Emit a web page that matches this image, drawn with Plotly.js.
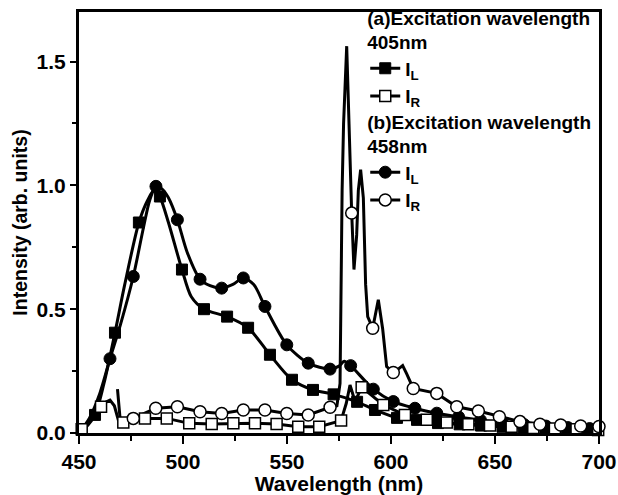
<!DOCTYPE html>
<html>
<head>
<meta charset="utf-8">
<script src="https://cdn.plot.ly/plotly-3.0.1.min.js"></script>
<style>
  html, body { margin: 0; padding: 0; background: #ffffff; }
  #chart { width: 618px; height: 495px; }
</style>
</head>
<body>
<div id="chart"></div>
<script>
// ---------- Data ----------
// (a) 405 nm excitation, I_L (filled squares): curve
var wl_L405 = [450, 453, 457.7, 462, 467.3, 472, 478.8, 483, 486.5, 488.9, 493, 499.5, 504, 510.1, 521.2, 531.3, 541.8, 552.4, 562.5, 572.4, 583.7, 592.3, 602.9, 612.5, 622.6, 633, 643.3, 653.6, 663.9, 674.2, 684.5, 694.8, 700];
var int_L405 = [0.0, 0.02, 0.073, 0.2, 0.405, 0.6, 0.85, 0.94, 0.985, 0.955, 0.85, 0.66, 0.55, 0.50, 0.47, 0.425, 0.316, 0.215, 0.174, 0.156, 0.126, 0.093, 0.061, 0.053, 0.04, 0.035, 0.03, 0.025, 0.02, 0.018, 0.015, 0.012, 0.01];
// markers
var mwl_L405 = [457.7, 467.3, 478.8, 488.9, 499.5, 510.1, 521.2, 531.3, 541.8, 552.4, 562.5, 572.4, 583.7, 592.3, 602.9, 612.5, 622.6, 633, 643.3, 653.6, 663.9, 674.2, 684.5, 694.8];
var mint_L405 = [0.073, 0.405, 0.85, 0.955, 0.66, 0.50, 0.47, 0.425, 0.316, 0.215, 0.174, 0.156, 0.126, 0.093, 0.061, 0.053, 0.04, 0.035, 0.03, 0.025, 0.02, 0.018, 0.015, 0.012];

// (a) 405 nm excitation, I_R (open squares): curve
var wl_R405 = [450, 451.3, 456, 460.6, 463, 464.9, 467, 468.9, 471.3, 476, 481.7, 492.2, 503.0, 513.8, 524.2, 534.6, 545.0, 555.4, 565.5, 576.0, 578.5, 580.3, 582.7, 585.9, 591, 596.3, 606.7, 617.2, 626.8, 637.2, 647.6, 658, 668.4, 678.8, 689.2, 699.6];
var int_R405 = [0.0, 0.015, 0.06, 0.106, 0.125, 0.133, 0.11, 0.053, 0.042, 0.05, 0.059, 0.059, 0.039, 0.036, 0.039, 0.039, 0.036, 0.025, 0.025, 0.05, 0.12, 0.194, 0.127, 0.185, 0.15, 0.113, 0.073, 0.053, 0.042, 0.035, 0.03, 0.025, 0.02, 0.018, 0.015, 0.012];
var mwl_R405 = [451.3, 460.6, 471.3, 481.7, 492.2, 503.0, 513.8, 524.2, 534.6, 545.0, 555.4, 565.5, 576.0, 585.9, 596.3, 606.7, 617.2, 626.8, 637.2, 647.6, 658, 668.4, 678.8, 689.2, 699.6];
var mint_R405 = [0.015, 0.106, 0.042, 0.059, 0.059, 0.039, 0.036, 0.039, 0.039, 0.036, 0.025, 0.025, 0.05, 0.185, 0.113, 0.073, 0.053, 0.042, 0.035, 0.03, 0.025, 0.02, 0.018, 0.015, 0.012];

// (b) 458 nm excitation, I_L (filled circles): curve
var wl_L458 = [450, 455, 460, 464.9, 470, 476.1, 481, 484, 487, 490, 493, 497.3, 502, 508.2, 513, 518.6, 524, 529, 534, 539.4, 549.9, 560.2, 570.7, 575, 577.5, 580.6, 591.5, 601.1, 611.5, 622, 632.5, 643, 653.5, 664, 674.5, 685, 695.5, 700];
var int_L458 = [0.0, 0.06, 0.16, 0.30, 0.44, 0.632, 0.83, 0.94, 0.996, 0.985, 0.95, 0.861, 0.73, 0.621, 0.595, 0.585, 0.60, 0.626, 0.6, 0.511, 0.356, 0.282, 0.258, 0.27, 0.29, 0.272, 0.177, 0.127, 0.10, 0.08, 0.065, 0.052, 0.042, 0.034, 0.028, 0.022, 0.018, 0.016];
var mwl_L458 = [464.9, 476.1, 487, 497.3, 508.2, 518.6, 529, 539.4, 549.9, 560.2, 570.7, 580.6, 591.5, 601.1, 611.5, 622, 632.5, 643, 653.5, 664, 674.5, 685, 695.5];
var mint_L458 = [0.30, 0.632, 0.996, 0.861, 0.621, 0.585, 0.626, 0.511, 0.356, 0.282, 0.258, 0.272, 0.177, 0.127, 0.10, 0.08, 0.065, 0.052, 0.042, 0.034, 0.028, 0.022, 0.018];

// (b) 458 nm excitation, I_R (open circles): curve
var wl_R458 = [468.5, 470, 476.1, 486.9, 497.3, 508.2, 518.6, 529.0, 539.4, 549.9, 560.2, 570.7, 574, 575.5, 576.5, 577.2, 578.7, 580.0, 580.5, 581.1, 582.2, 583.5, 584.3, 585.4, 586.7, 587.8, 588.8, 591.2, 593.9, 596, 597.9, 601.1, 603, 605.6, 607.5, 610.7, 622.0, 631.6, 642.0, 652.1, 662.0, 671.6, 681.6, 691.2, 700];
var int_R458 = [0.177, 0.035, 0.059, 0.10, 0.106, 0.086, 0.079, 0.093, 0.093, 0.079, 0.073, 0.104, 0.11, 0.2, 0.98, 1.25, 1.562, 1.22, 1.0, 0.888, 0.66, 0.8, 0.98, 1.063, 0.95, 0.6, 0.47, 0.423, 0.538, 0.42, 0.268, 0.244, 0.255, 0.272, 0.24, 0.18, 0.16, 0.106, 0.089, 0.066, 0.046, 0.035, 0.032, 0.028, 0.026];
var mwl_R458 = [476.1, 486.9, 497.3, 508.2, 518.6, 529.0, 539.4, 549.9, 560.2, 570.7, 581.1, 591.2, 601.1, 610.7, 622.0, 631.6, 642.0, 652.1, 662.0, 671.6, 681.6, 691.2, 700];
var mint_R458 = [0.059, 0.10, 0.106, 0.086, 0.079, 0.093, 0.093, 0.079, 0.073, 0.104, 0.888, 0.423, 0.244, 0.18, 0.16, 0.106, 0.089, 0.066, 0.046, 0.035, 0.032, 0.028, 0.026];

var xTicks = [450, 500, 550, 600, 650, 700];
var yTicks = [0.0, 0.5, 1.0, 1.5];
var legendTitleA = '<b>(a)Excitation wavelength<br>405nm</b>';
var legendTitleB = '<b>(b)Excitation wavelength<br>458nm</b>';
var nameL = '<b>I<sub>L</sub></b>';
var nameR = '<b>I<sub>R</sub></b>';

// ---------- Styles ----------
var FONT = 'Liberation Sans, Arial, sans-serif';
var LW = 3;
var MS_SQ = 11, MS_CI = 12;
var filledSq = {symbol: 'square', size: MS_SQ, color: '#000', line: {color: '#000', width: 1}};
var openSq = {symbol: 'square', size: MS_SQ, color: '#fff', line: {color: '#000', width: 1.5}};
var filledCi = {symbol: 'circle', size: MS_CI, color: '#000', line: {color: '#000', width: 1}};
var openCi = {symbol: 'circle', size: MS_CI, color: '#fff', line: {color: '#000', width: 1.5}};

function curve(x, y, smooth) {
  return {x: x, y: y, mode: 'lines', showlegend: false, hoverinfo: 'skip',
    line: {color: '#000', width: LW, shape: smooth ? 'spline' : 'linear', smoothing: 0.8}};
}
function marks(x, y, mk) {
  return {x: x, y: y, mode: 'markers', showlegend: false, marker: mk, cliponaxis: false};
}
function legendEntry(name, mk, leg) {
  return {x: [null], y: [null], mode: 'lines+markers', name: name, legend: leg,
    line: {color: '#000', width: LW}, marker: mk};
}

var data = [
  curve(wl_L405, int_L405, true),
  curve(wl_L458, int_L458, true),
  curve(wl_R405, int_R405, false),
  curve(wl_R458, int_R458, false),
  marks(mwl_L405, mint_L405, filledSq),
  marks(mwl_L458, mint_L458, filledCi),
  marks(mwl_R405, mint_R405, openSq),
  marks(mwl_R458, mint_R458, openCi),
  legendEntry(nameL, filledSq, 'legend'),
  legendEntry(nameR, openSq, 'legend'),
  legendEntry(nameL, filledCi, 'legend2'),
  legendEntry(nameR, openCi, 'legend2')
];

var LEGFONT = 19;
var legendCommon = {
  xref: 'container', yref: 'container',
  xanchor: 'left', yanchor: 'top', bgcolor: 'rgba(0,0,0,0)', borderwidth: 0,
  font: {family: FONT, size: LEGFONT, color: '#000'}, tracegroupgap: 0, itemwidth: 30
};

var layout = {
  width: 618, height: 495,
  margin: {l: 79, r: 19, t: 12, b: 62, autoexpand: false},
  paper_bgcolor: '#fff', plot_bgcolor: '#fff',
  font: {family: FONT, color: '#000'},
  showlegend: true,
  xaxis: {
    range: [450, 700], tickmode: 'array', tickvals: xTicks, ticktext: xTicks.map(String),
    ticks: 'outside', ticklen: 8, tickwidth: 2, tickcolor: '#000',
    minor: {dtick: 25, tick0: 450, ticks: 'outside', ticklen: 5, tickwidth: 2, tickcolor: '#000', showgrid: false},
    showline: true, linecolor: '#000', linewidth: 3, mirror: true,
    showgrid: false, zeroline: false, automargin: false,
    tickfont: {family: FONT, size: 21, color: '#000', weight: 'bold'},
    title: {text: '<b>Wavelength (nm)</b>', font: {family: FONT, size: 21, color: '#000'}, standoff: 5}
  },
  yaxis: {
    range: [0, 1.7], tickmode: 'array', tickvals: yTicks, ticktext: yTicks.map(function (v) { return v.toFixed(1); }),
    ticks: 'outside', ticklen: 6, tickwidth: 2, tickcolor: '#000',
    minor: {dtick: 0.25, tick0: 0, ticks: 'outside', ticklen: 4, tickwidth: 2, tickcolor: '#000', showgrid: false},
    showline: true, linecolor: '#000', linewidth: 3, mirror: true,
    showgrid: false, zeroline: false, automargin: false,
    tickfont: {family: FONT, size: 21, color: '#000', weight: 'bold'},
    title: {text: '<b>Intensity (arb. units)</b>', font: {family: FONT, size: 19.5, color: '#000'}, standoff: 4}
  },
  legend: Object.assign({}, legendCommon, {x: 0.591, y: 1.0, title: {text: legendTitleA, font: {family: FONT, size: LEGFONT, color: '#000'}}}),
  legend2: Object.assign({}, legendCommon, {x: 0.591, y: 0.790, title: {text: legendTitleB, font: {family: FONT, size: LEGFONT, color: '#000'}}})
};

Plotly.newPlot('chart', data, layout, {staticPlot: true, displayModeBar: false});
</script>
</body>
</html>
